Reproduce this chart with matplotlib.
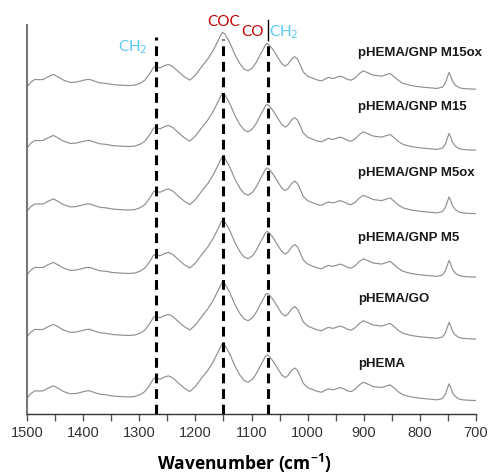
import numpy as np
import matplotlib
matplotlib.use("Agg")
import matplotlib.pyplot as plt
from matplotlib.ticker import MultipleLocator

# wavenumbers (cm-1) where the traces were read
wn = [1500, 1493, 1486, 1478, 1471, 1462, 1453, 1444, 1435, 1423, 1413, 1405, 1395, 1388,
      1380, 1370, 1360, 1347, 1334, 1320, 1308, 1298, 1290, 1282, 1274, 1268, 1263, 1255,
      1248, 1240, 1230, 1220, 1210, 1200, 1189, 1178, 1168, 1160, 1155, 1152, 1148, 1143,
      1138, 1130, 1121, 1113, 1106, 1098, 1091, 1085, 1080, 1075, 1072, 1068, 1061, 1052,
      1046, 1040, 1035, 1028, 1023, 1018, 1013, 1008, 1000, 990, 982, 975, 968, 963, 958,
      954, 948, 942, 935, 928, 922, 915, 908, 901, 893, 883, 875, 868, 860, 853, 845, 838,
      830, 815, 800, 785, 770, 760, 755, 751, 748, 745, 742, 737, 730, 724, 712, 700]

# common band profile (height above each trace's own baseline)
profile = [2.3, 7.0, 9.7, 9.5, 9.7, 12.5, 14.7, 12.0, 9.0, 6.7, 7.0, 8.0, 9.5, 9.7,
           8.0, 6.3, 5.8, 4.5, 4.0, 3.6, 4.0, 6.0, 9.0, 15.0, 22.3, 22.0, 21.3, 23.5,
           24.7, 22.5, 17.3, 12.5, 9.0, 14.0, 22.3, 30.0, 39.0, 48.0, 54.0, 56.7, 55.5, 51.0,
           45.7, 35.0, 25.7, 20.0, 18.3, 21.5, 27.3, 34.0, 39.0, 44.5, 45.7, 44.0, 39.0, 30.7,
           25.5, 23.0, 25.0, 30.5, 32.5, 30.0, 24.0, 17.3, 13.0, 10.7, 9.0, 8.3, 10.5, 11.7, 11.0,
           10.7, 12.0, 13.0, 11.5, 9.5, 9.0, 11.5, 15.5, 18.3, 16.5, 14.0, 13.5, 13.0, 14.5, 15.7, 12.0, 8.5,
           5.7, 3.5, 2.3, 1.5, 0.7, 2.0, 5.7, 12.0, 16.7, 13.0, 8.0, 4.0, 1.5, 0.7, 0.2, 0.0]

names = ["pHEMA/GNP M15ox", "pHEMA/GNP M15", "pHEMA/GNP M5ox",
         "pHEMA/GNP M5", "pHEMA/GO", "pHEMA"]
# vertical stacking offset of each trace
offsets = [325, 264, 200.5, 137, 75, 13.5]
name_y = [361, 307, 241, 176, 115, 50]

# marker lines
band_pos = [1270, 1150, 1070]
band_top = [377, 375, 372]

fig = plt.figure(figsize=(4.91, 4.75), dpi=100)
ax = fig.add_axes([0.055, 0.1284, 0.9145, 0.8186])

prof = np.array(profile)
for off in offsets:
    ax.plot(wn, prof + off, color="#909090", lw=0.85)

for name, y in zip(names, name_y):
    ax.text(910, y, name, fontsize=9.5, fontweight="bold",
            family="Liberation Sans", va="center", ha="left", color="#1a1a1a")

for x, top in zip(band_pos, band_top):
    ax.plot([x, x], [0, top], color="black", lw=2.2, dashes=(3.2, 1.9))
# solid divider between CO and CH2
ax.plot([1070, 1070], [374, 394], color="black", lw=1.0, clip_on=False)

lab_font = dict(fontsize=11, family="Lato", ha="center", va="center")
ax.text(1312, 367, "CH$_2$", color="#5bc8f5", **lab_font)
ax.text(1149, 392, "COC", color="#c00000", **lab_font)
ax.text(1098, 382, "CO", color="#c00000", **lab_font)
ax.text(1043, 382, "CH$_2$", color="#5bc8f5", **lab_font)

ax.set_xlim(1500, 700)
ax.set_ylim(0, 389)
ax.xaxis.set_major_locator(MultipleLocator(100))
ax.xaxis.set_minor_locator(MultipleLocator(50))
ax.tick_params(axis="x", which="both", direction="out", length=5, width=1,
               color="#555555", labelsize=10.5, labelcolor="#333333")
ax.set_yticks([])
for lab in ax.get_xticklabels():
    lab.set_family("Liberation Sans")

ax.spines["top"].set_visible(False)
ax.spines["right"].set_visible(False)
ax.spines["left"].set_color("#777777")
ax.spines["left"].set_linewidth(1.5)
ax.spines["bottom"].set_color("#333333")
ax.spines["bottom"].set_linewidth(1.0)

ax.set_xlabel("Wavenumber (cm$^{\\mathregular{-1}}$)", fontsize=12.5, fontweight="bold",
              family="Open Sans")
ax.xaxis.set_label_coords(0.484, -0.097)

fig.savefig("out.png", dpi=100)
